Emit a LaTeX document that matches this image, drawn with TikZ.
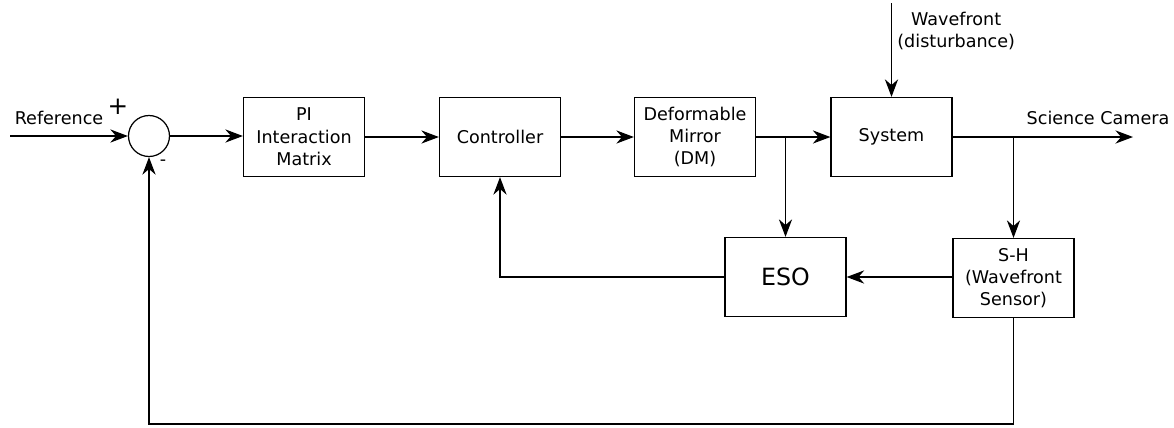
\documentclass[tikz,border=0pt]{standalone}
\usepackage{fontspec}
\setmainfont{DejaVu Sans}
\usetikzlibrary{arrows.meta}

\tikzset{
  block/.style={draw, minimum width=2.42cm, minimum height=1.58cm,
    align=center, font=\fontsize{10}{12.7}\selectfont},
  sumnode/.style={draw, circle, minimum size=0.82cm, inner sep=0pt},
  sig/.style={-{Stealth[length=10pt,width=7.5pt]}},
  lbl/.style={font=\fontsize{10}{12.7}\selectfont, inner sep=1pt, align=center}
}

\begin{document}
\begin{tikzpicture}[x=0.02cm, y=-0.02cm, line width=0.7pt]
  \useasboundingbox (0,0) rectangle (1174,427);

  % blocks
  \node[sumnode] (sum) at (149,136) {};
  \node[block] (pi) at (304,137) {PI\\Interaction\\Matrix};
  \node[block] (ctrl) at (500,137) {Controller};
  \node[block] (dm) at (695,137) {Deformable\\Mirror\\(DM)};
  \node[block] (sys) at (891.5,137) {System};
  \node[block, font=\fontsize{13.5}{16}\selectfont] (eso) at (785.5,277) {ESO};
  \node[block] (sh) at (1013.5,278) {S-H\\(Wavefront\\Sensor)};

  % free ends
  \coordinate (ref) at (10,136);
  \coordinate (wf) at (891.5,3);
  \coordinate (cam) at (1133,137);
  \coordinate (fb) at (1013.5,424);

  % labels
  \node[lbl] (reflbl) at (59,118) {Reference};
  \node[lbl, font=\fontsize{14}{16}\selectfont] (plus) at (118,107) {+};
  \node[lbl] (minus) at (163,163) {-};
  \node[lbl, anchor=west] (wflbl) at (895,31) {Wavefront\\(disturbance)};
  \node[lbl] (camlbl) at (1098,118) {Science Camera};

  % forward path
  \draw[sig] (ref) -- (sum);
  \draw[sig] (sum) -- (sum -| pi.west);
  \draw[sig] (pi) -- (ctrl);
  \draw[sig] (ctrl) -- (dm);
  \draw[sig] (dm) -- (sys);
  \draw[sig] (wf) -- (sys);
  \draw[sig] (sys) -- (cam);

  % observer loop
  \draw[sig] (eso |- dm) -- (eso);
  \draw[sig] (sh |- sys) -- (sh);
  \draw[sig] (sh.west |- eso) -- (eso);
  \draw[sig] (eso.west) -| (ctrl.south);

  % outer feedback
  \draw[sig] (sh.south) -- (fb) -| (sum.south);
\end{tikzpicture}
\end{document}
